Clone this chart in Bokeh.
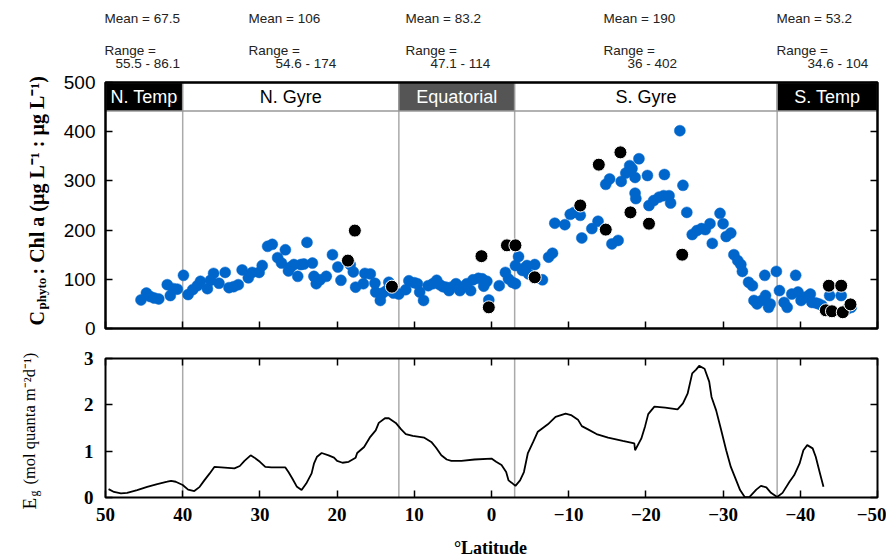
import math
from bokeh.plotting import figure
from bokeh.models import ColumnDataSource, Range1d, FixedTicker, LinearAxis
from bokeh.layouts import column
from bokeh.embed import file_html
from bokeh.resources import INLINE
from bokeh.core.properties import value

# ---------------- data ----------------
blue_lat = [45.4, 44.7, 44.2, 43.7, 43.1, 42.0, 41.6, 41.2, 40.7, 39.9, 39.3, 38.7, 38.1, 37.7,
            36.8, 36.4, 36.0, 35.3, 34.5, 34.0, 33.4, 32.8, 32.3, 31.5, 31.0, 30.1, 29.7, 29.0,
            28.4, 27.7, 27.2, 26.7, 26.3, 26.0, 25.6, 25.1, 24.7, 24.3, 23.9, 23.2, 23.0, 22.7,
            22.2, 21.4, 20.6, 19.9, 19.5, 18.3, 17.9, 17.6, 16.6, 16.4, 15.7, 15.1, 15.0, 14.4,
            14.1, 13.6, 13.3, 12.7, 12.0, 11.1, 10.7, 10.0, 9.6, 9.3, 8.8, 8.2, 7.6, 7.1, 6.7,
            6.3, 5.9, 5.5, 5.2, 4.6, 4.1, 3.6, 3.2, 2.7, 2.4, 1.7, 1.2, 1.0, 0.6, 0.35, -1.0,
            -1.8, -2.2, -2.7, -3.1, -3.1, -3.5, -4.0, -4.3, -4.6, -4.8, -5.6, -6.6, -7.4, -7.9,
            -8.2, -9.5, -10.2, -10.7, -11.5, -11.7, -13.0, -13.8, -14.8, -15.3, -15.6, -16.4,
            -16.8, -17.4, -17.9, -18.2, -18.6, -19.1, -18.6, -18.7, -20.2, -20.4, -21.0, -21.7,
            -22.3, -23.0, -23.2, -22.4, -24.4, -24.8, -25.3, -26.0, -26.6, -27.2, -27.7, -28.3,
            -28.6, -29.6, -30.0, -30.4, -31.0, -31.4, -31.9, -32.3, -32.5, -33.3, -33.8, -34.0,
            -34.4, -35.0, -35.5, -35.9, -36.1, -35.4, -36.9, -37.3, -37.9, -38.3, -38.9, -39.4,
            -39.7, -40.1, -40.7, -41.3, -41.5, -42.0, -42.4, -42.8, -43.8, -45.3, -46.1, -46.6]
blue_val = [58, 72, 65, 62, 60, 89, 67, 81, 80, 108, 69, 79, 87, 96,
            81, 98, 112, 92, 114, 83, 85, 89, 119, 103, 114, 114, 128, 167,
            171, 144, 133, 160, 117, 125, 130, 106, 130, 131, 175, 133, 106, 91,
            99, 106, 150, 125, 98, 130, 115, 84, 91, 112, 111, 92, 74, 57,
            72, 77, 94, 72, 70, 79, 97, 93, 91, 74, 57, 87, 91, 98, 89,
            85, 84, 77, 84, 91, 77, 85, 91, 77, 99, 102, 101, 86, 96, 58, 87,
            114, 101, 94, 91, 128, 146, 118, 123, 128, 111, 130, 99, 145, 153,
            214, 211, 232, 236, 230, 184, 203, 218, 293, 304, 172, 179,
            299, 316, 331, 325, 307, 345, 275, 264, 311, 250, 260, 267,
            270, 270, 255, 313, 402, 291, 236, 191, 199, 203, 201, 213,
            173, 234, 213, 187, 194, 150, 138, 130, 116, 94, 87, 57,
            50, 57, 67, 43, 50, 108, 116, 77, 53, 43, 70, 108,
            74, 57, 64, 70, 53, 52, 50, 47, 67, 67, 40, 43]

black_lat = [18.6, 17.7, 12.9, 1.3, 0.35, -2.0, -3.1, -5.6, -11.5, -13.9, -14.8, -16.7,
             -18.0, -20.4, -24.7, -43.7, -45.3, -43.3, -44.1, -45.5, -46.5]
black_val = [138, 199, 85, 147, 43, 169, 169, 104, 250, 333, 201, 358,
             236, 213, 150, 87, 87, 37, 35, 33, 49]

eg_lat = [49.6, 48.9, 48.0, 47.2, 45.9, 44.6, 43.3, 42.0, 41.5, 40.9, 40.0, 39.3, 38.5, 37.8,
          37.2, 36.5, 35.9, 35.0, 33.3, 32.6, 32.0, 31.2, 30.7, 30.0, 29.3, 28.5, 26.7, 26.3,
          25.8, 25.2, 24.6, 24.0, 23.3, 23.0, 22.6, 22.0, 21.1, 20.4, 20.0, 19.3, 18.5, 17.6,
          17.4, 16.5, 15.7, 15.0, 14.6, 13.8, 13.3, 12.4, 11.7, 11.1, 10.2, 8.7, 7.8, 7.2,
          6.5, 5.8, 5.2, 3.9, 2.2, 0.0, -0.6, -1.3, -1.9, -2.2, -2.6, -3.1, -3.7, -4.2,
          -4.7, -5.4, -6.0, -7.3, -8.3, -9.6, -10.3, -11.2, -11.7, -12.5, -13.6, -15.1,
          -17.0, -18.5, -18.6, -19.4, -19.9, -20.3, -21.1, -22.5, -24.1, -24.8, -25.4,
          -26.0, -26.5, -26.9, -27.6, -28.2, -28.5, -29.1, -29.7, -30.4, -31.0, -31.7,
          -32.2, -32.8, -33.4, -34.3, -34.9, -35.6, -36.2, -37.0, -37.7, -38.6, -39.2,
          -39.9, -40.4, -40.9, -41.6, -42.0, -42.5, -43.0]
eg_val = [0.18, 0.12, 0.09, 0.10, 0.16, 0.23, 0.29, 0.34, 0.36, 0.34, 0.27, 0.17, 0.14, 0.23,
          0.37, 0.52, 0.66, 0.65, 0.63, 0.68, 0.79, 0.91, 0.86, 0.77, 0.66, 0.65, 0.65, 0.55,
          0.41, 0.23, 0.16, 0.30, 0.52, 0.73, 0.88, 0.96, 0.91, 0.86, 0.79, 0.75, 0.77, 0.86,
          0.96, 1.09, 1.31, 1.45, 1.61, 1.71, 1.71, 1.61, 1.47, 1.37, 1.33, 1.29, 1.20, 1.08,
          0.91, 0.82, 0.79, 0.79, 0.82, 0.84, 0.77, 0.70, 0.55, 0.37, 0.32, 0.25, 0.37, 0.55,
          0.95, 1.20, 1.42, 1.58, 1.74, 1.81, 1.78, 1.68, 1.54, 1.47, 1.37, 1.29,
          1.22, 1.17, 1.02, 1.27, 1.54, 1.80, 1.96, 1.94, 1.90, 2.03, 2.24,
          2.68, 2.76, 2.84, 2.78, 2.50, 2.17, 1.88, 1.49, 1.02, 0.66, 0.37,
          0.16, 0.01, 0.01, 0.17, 0.25, 0.22, 0.10, 0.01, 0.10, 0.34, 0.48,
          0.73, 1.02, 1.13, 1.06, 0.88, 0.55, 0.23]

region_names = ["N. Temp", "N. Gyre", "Equatorial", "S. Gyre", "S. Temp"]
region_start = [50, 40, 12, -3, -37]
region_end = [40, 12, -3, -37, -50]
boundaries = [40, 12, -3, -37]
stat_means = ["67.5", "106", "83.2", "190", "53.2"]
stat_ranges = ["55.5 - 86.1", "54.6 - 174", "47.1 - 114", "36 - 402", "34.6 - 104"]
x_ticks = [50, 40, 30, 20, 10, 0, -10, -20, -30, -40, -50]
chl_ticks = [0, 100, 200, 300, 400, 500]
eg_ticks = [0, 1, 2, 3]

# ---------------- styles / layout ----------------
region_fill = ["black", "white", "#555555", "white", "black"]
region_text_color = ["white", "black", "white", "black", "white"]
BLUE = "#0066CC"
GREY = "#aaaaaa"
SANS = "Liberation Sans"
SERIF = "Liberation Serif"
W, H = 886, 560
TOP_H = 342          # canvas height of upper panel (includes the header text)

# pixel (page) -> data helpers, layout only
def tx(ix):
    return 50 - (ix - 105) * 100.0 / 772.0

def ty_top(iy):
    return (328 - iy) * 500.0 / 246.0

def ty_bot(iy):
    return (497 - iy) * 3.0 / 139.0

xr = Range1d(tx(0), tx(W))


def style_axis(ax, ticks, show_labels, font=SANS, size="19px", bold=False, standoff=10):
    ax.ticker = FixedTicker(ticks=ticks)
    ax.major_tick_in = 7
    ax.major_tick_out = 0
    ax.minor_tick_line_color = None
    ax.axis_line_color = None
    ax.major_tick_line_color = "black"
    ax.major_tick_line_width = 1.5
    if show_labels:
        ax.major_label_text_font = font
        ax.major_label_text_font_size = size
        ax.major_label_text_color = "black"
        ax.major_label_standoff = standoff
        if bold:
            ax.major_label_text_font_style = "bold"
    else:
        ax.major_label_text_font_size = "1px"
        ax.major_label_text_color = None
        ax.major_label_standoff = 0


# ---------------- upper panel ----------------
p1 = figure(width=W, height=TOP_H, x_range=xr, y_range=Range1d(ty_top(TOP_H), ty_top(0)),
            toolbar_location=None, output_backend="svg",
            min_border_left=0, min_border_right=0, min_border_top=0, min_border_bottom=0,
            outline_line_color=None)
p1.grid.visible = False

# header statistics
hdr = dict(text_font=value(SANS), text_font_size="13.5px", text_baseline="middle",
           text_align="left", text_color="#222222")
mean_x = [tx(v) for v in (104, 248, 405, 603, 776)]
val_x = [tx(v) for v in (115, 275, 430, 627, 807)]
p1.text(x=mean_x, y=[ty_top(18)] * 5, text=["Mean = " + m for m in stat_means], **hdr)
p1.text(x=mean_x, y=[ty_top(50)] * 5, text=["Range ="] * 5, **hdr)
p1.text(x=val_x, y=[ty_top(63)] * 5, text=stat_ranges, **hdr)

p1.segment(x0=boundaries, y0=[chl_ticks[0]] * len(boundaries), x1=boundaries,
           y1=[chl_ticks[-1]] * len(boundaries), line_color=GREY, line_width=1.5)

band = ColumnDataSource(dict(l=region_start, r=region_end,
                             c=[(a + b) / 2.0 for a, b in zip(region_start, region_end)],
                             fill=region_fill, tc=region_text_color, name=region_names))
p1.quad(left="l", right="r", bottom=442, top=chl_ticks[-1], fill_color="fill",
        line_color="#999999", line_width=1.5, source=band)
p1.text(x="c", y=471, text="name", text_color="tc", text_font=value(SANS),
        text_font_size="18px", text_align="center", text_baseline="middle", source=band)

p1.scatter(blue_lat, blue_val, size=11, fill_color=BLUE, line_color=BLUE, line_width=0.5)
p1.scatter(black_lat, black_val, size=13, fill_color="black", line_color="white", line_width=1)

# frame box
p1.quad(left=[x_ticks[0]], right=[x_ticks[-1]], bottom=[chl_ticks[0]], top=[chl_ticks[-1]],
        fill_color=None, line_color="black", line_width=2.5)

yl = p1.yaxis[0]
style_axis(yl, chl_ticks, True, SANS, "19px", False, 10)
yl.fixed_location = x_ticks[0]
xb = p1.xaxis[0]
style_axis(xb, x_ticks, False)
xb.fixed_location = chl_ticks[0]
r1 = LinearAxis(fixed_location=x_ticks[-1])
style_axis(r1, chl_ticks, False)
p1.add_layout(r1, "right")

rot = dict(angle=math.pi / 2, text_baseline="alphabetic", text_align="left",
           text_font=value(SERIF), text_color="black")
p1.text(x=[tx(36)], y=[ty_top(325)], text=["C"], text_font_size="20px",
        text_font_style="bold", **rot)
p1.text(x=[tx(40.5)], y=[ty_top(309)], text=["phyto"], text_font_size="13px",
        text_font_style="bold", **rot)
p1.text(x=[tx(36)], y=[ty_top(274)],
        text=[": Chl a  (\u00b5g L\u207b\u00b9 : \u00b5g L\u207b\u00b9)"],
        text_font_size="20px", text_font_style="bold", **rot)

# ---------------- lower panel ----------------
p2 = figure(width=W, height=H - TOP_H, x_range=xr,
            y_range=Range1d(ty_bot(H), ty_bot(TOP_H)),
            toolbar_location=None, output_backend="svg",
            min_border_left=0, min_border_right=0, min_border_top=0, min_border_bottom=0,
            outline_line_color=None)
p2.grid.visible = False

p2.segment(x0=boundaries, y0=[eg_ticks[0]] * len(boundaries), x1=boundaries,
           y1=[eg_ticks[-1]] * len(boundaries), line_color=GREY, line_width=1.5)
p2.line(eg_lat, eg_val, line_color="black", line_width=1.8)
p2.quad(left=[x_ticks[0]], right=[x_ticks[-1]], bottom=[eg_ticks[0]], top=[eg_ticks[-1]],
        fill_color=None, line_color="black", line_width=2)

yl2 = p2.yaxis[0]
style_axis(yl2, eg_ticks, True, SERIF, "19px", True, 12)
yl2.fixed_location = x_ticks[0]
xb2 = p2.xaxis[0]
style_axis(xb2, x_ticks, True, SERIF, "19px", True, 10)
xb2.fixed_location = eg_ticks[0]
xb2.major_label_overrides = {t: str(t).replace("-", "\u2212") for t in x_ticks}
r2 = LinearAxis(fixed_location=x_ticks[-1])
style_axis(r2, eg_ticks, False)
p2.add_layout(r2, "right")
t2 = LinearAxis(fixed_location=eg_ticks[-1])
style_axis(t2, x_ticks, False)
p2.add_layout(t2, "above")

p2.text(x=[tx(490)], y=[ty_bot(547)], text=["\u00b0Latitude"], text_font=value(SERIF),
        text_font_size="18px", text_font_style="bold", text_align="center",
        text_baseline="middle", text_color="black")

p2.text(x=[tx(29)], y=[ty_bot(509)], text=["E"], text_font_size="19px", **rot)
p2.text(x=[tx(33.5)], y=[ty_bot(496)], text=["g"], text_font_size="12px", **rot)
p2.text(x=[tx(29)], y=[ty_bot(484)], text=["(mol quanta m\u207b\u00b2d\u207b\u00b9)"],
        text_font_size="16.5px", **rot)

layout = column(p1, p2)
open("out.html", "w").write(file_html(layout, INLINE))
